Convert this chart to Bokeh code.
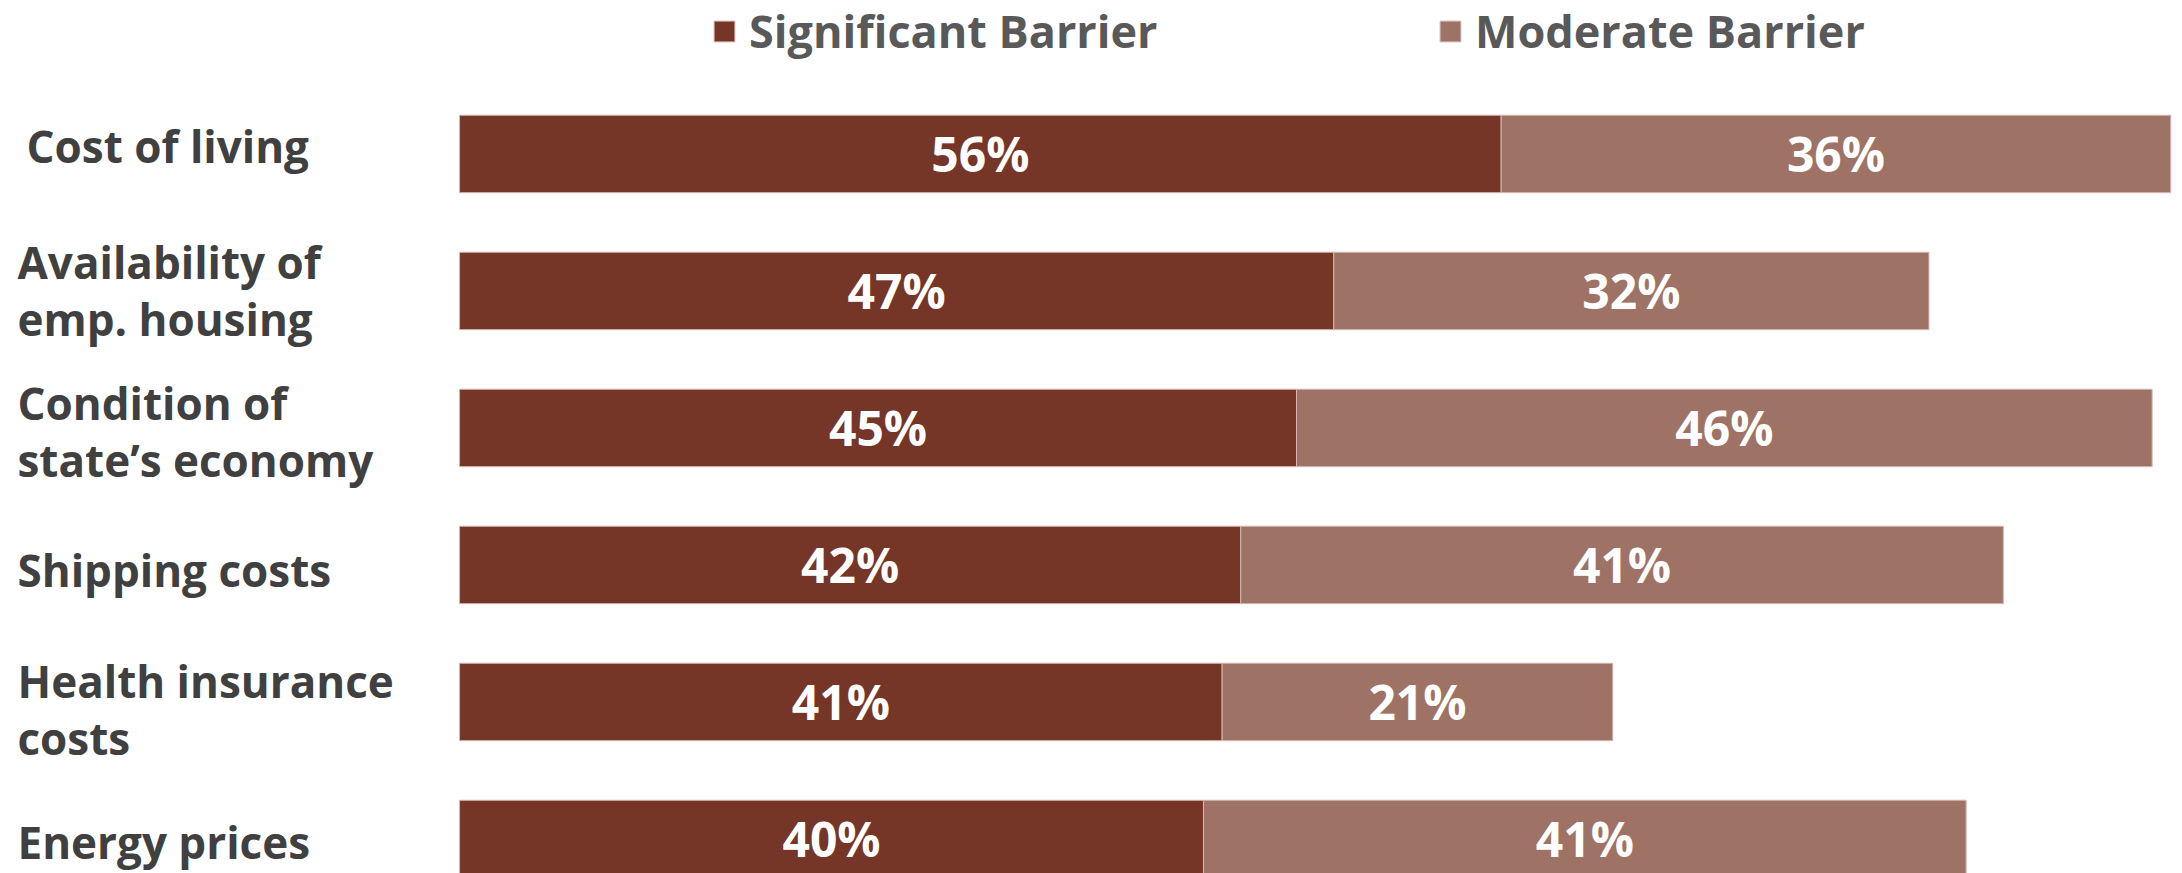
from bokeh.plotting import figure
from bokeh.models import Range1d, ColumnDataSource, Legend, LegendItem
from bokeh.core.properties import value
from bokeh.embed import file_html
from bokeh.resources import INLINE

categories = ["Cost of living", "Availability of\nemp. housing", "Condition of\nstate\u2019s economy",
              "Shipping costs", "Health insurance\ncosts", "Energy prices"]
significant = [56, 47, 45, 42, 41, 40]
moderate = [36, 32, 46, 41, 21, 41]
series_names = ["Significant Barrier", "Moderate Barrier"]

DARK = "#753527"
LIGHT = "#9E7366"
EDGE = "#D4B8B0"
FONT = "Open Sans"

PX_X = 18.6      # pixels per percent
PX_Y = 137.0     # pixels per category row
W, H = 2174, 873
X0 = -24.68
Y0 = -1.120

ypos = list(range(len(categories)))
sig_mid = [s / 2 for s in significant]
mod_left = significant
mod_right = [s + m for s, m in zip(significant, moderate)]
mod_mid = [s + m / 2 for s, m in zip(significant, moderate)]

src = ColumnDataSource(dict(
    y=ypos, cat=categories, sig=significant, mod=moderate,
    sig_mid=sig_mid, mod_left=mod_left, mod_right=mod_right, mod_mid=mod_mid,
    sig_lbl=[f"{v}%" for v in significant], mod_lbl=[f"{v}%" for v in moderate],
    xoff=[9, 0, 0, 0, 0, 0],
    yoff=[-8, 0, 4, 5, 8, 3],
))

p = figure(width=W, height=H, output_backend="svg", toolbar_location=None,
           x_range=Range1d(X0, X0 + W / PX_X), y_range=Range1d(Y0 + H / PX_Y, Y0),
           min_border=0, min_border_left=0, min_border_right=0,
           min_border_top=0, min_border_bottom=0)
p.axis.visible = False
p.grid.visible = False
p.outline_line_color = None
p.background_fill_color = "white"

bar_h = 0.565
r1 = p.hbar(y="y", left=0, right="sig", height=bar_h, source=src,
            fill_color=DARK, line_color=EDGE, line_width=1)
r2 = p.hbar(y="y", left="mod_left", right="mod_right", height=bar_h, source=src,
            fill_color=LIGHT, line_color=EDGE, line_width=1)

p.text(x="sig_mid", y="y", text="sig_lbl", source=src, text_color="white",
       text_font=value(FONT), text_font_style="bold", text_font_size="48px",
       text_align="center", text_baseline="middle")
p.text(x="mod_mid", y="y", text="mod_lbl", source=src, text_color="white",
       text_font=value(FONT), text_font_style="bold", text_font_size="48px",
       text_align="center", text_baseline="middle")

label_x = X0 + 17 / PX_X
p.text(x=label_x, y="y", text="cat", source=src, x_offset="xoff", y_offset="yoff",
       text_color="#404040",
       text_font=value(FONT), text_font_style="bold", text_font_size="44px",
       text_align="left", text_baseline="middle", text_line_height=0.95)

legend = Legend(items=[LegendItem(label=series_names[0], renderers=[r1]),
                       LegendItem(label=series_names[1], renderers=[r2])],
                orientation="horizontal", location=(711, 812),
                glyph_width=26, glyph_height=26, label_standoff=12,
                label_width=688, spacing=0, padding=0, margin=0,
                label_text_font=FONT, label_text_font_style="bold",
                label_text_font_size="45px", label_text_color="#595959",
                border_line_color=None, background_fill_alpha=0)
p.add_layout(legend)

open("out.html", "w").write(file_html(p, INLINE))
